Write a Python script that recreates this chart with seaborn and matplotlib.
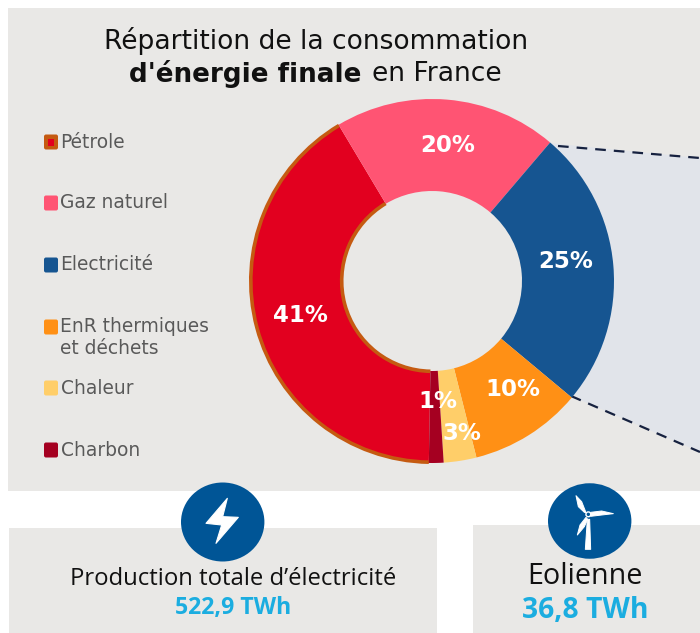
import matplotlib
matplotlib.use("Agg")
import matplotlib.pyplot as plt
import seaborn as sns
from matplotlib.patches import Rectangle, Ellipse, Polygon, FancyBboxPatch, Circle, Arc

# Data
sources = ["Pétrole", "Gaz naturel", "Electricité", "EnR thermiques\net déchets", "Chaleur", "Charbon"]
shares = [41.1, 19.8, 24.8, 10.0, 2.9, 1.3]
colors = ["#E2001F", "#FF5473", "#165591", "#FF9015", "#FFCE69", "#A50021"]
title_top = "Répartition de la consommation"
total_label = "Production totale d’électricité"
total_value = "522,9 TWh"
wind_label = "Eolienne"
wind_value = "36,8 TWh"

sns.set_theme(style="white", rc={"font.family": ["DejaVu Sans"]})
palette = sns.color_palette(colors)

H = 633
Y = lambda y: H - y
BG = "#E9E8E6"
BLUE = "#005596"
CYAN = "#1BADE0"
GREY = "#595959"
EDGE = "#C55A11"

fig = plt.figure(figsize=(7.0, 6.33), dpi=100, facecolor="white")
ax = fig.add_axes([0, 0, 1, 1])

# Panels
for x0, y0, x1, y1 in [(8, 8, 700, 491), (9, 528, 437, 633), (473, 525, 700, 633)]:
    ax.add_patch(Rectangle((x0, Y(y1)), x1 - x0, y1 - y0, fc=BG, ec="none", zorder=1))

# Zoom wedge
ax.add_patch(Polygon([(549, Y(143)), (700, Y(158)), (700, Y(452)), (571, Y(396))],
                     fc="#E1E4EA", ec="none", zorder=1.5))
ax.plot([558, 700], [Y(146), Y(158)], color="#16213F", lw=1.6, ls=(0, (4.8, 3.6)), zorder=2)
ax.plot([571, 700], [Y(396), Y(452)], color="#16213F", lw=1.6, ls=(0, (4.8, 3.6)), zorder=2)

# Donut
cx, cy, R, r_in = 432, 281, 182, 90
wedges, _, autotexts = ax.pie(
    shares, colors=palette, center=(cx, Y(cy)), radius=R, startangle=-91,
    counterclock=False, frame=True, autopct="%.0f%%", pctdistance=0.747,
    wedgeprops=dict(width=R - r_in, linewidth=0),
    textprops=dict(color="white", fontsize=16.5, fontweight="bold"),
)
for w in wedges:
    w.set_zorder(3)
for rad in (R - 0.8, r_in + 0.3):
    ax.add_patch(Arc((cx, Y(cy)), 2 * rad, 2 * rad, theta1=wedges[0].theta1, theta2=wedges[0].theta2,
                     color=EDGE, lw=2.6, zorder=3.2))
for w in wedges[1:]:
    w.set_zorder(3.5)
label_pos = [(300, 316), (448, 146), (566, 261), (513, 390), (462, 434), (438, 401)]
for t, (x, y) in zip(autotexts, label_pos):
    t.set_zorder(5)
    t.set_position((x, Y(y)))

ax.set_xlim(0, 700)
ax.set_ylim(0, H)
ax.set_aspect("equal")
ax.axis("off")

# Title
ax.text(316, Y(41), title_top, ha="center", va="center", fontsize=19.1, color="#111111", zorder=6)
ax.text(129, Y(74), "d'énergie finale", ha="left", va="center", fontsize=18.9,
        fontweight="bold", color="#111111", zorder=6)
ax.text(372, Y(74), "en France", ha="left", va="center", fontsize=19.1, color="#111111", zorder=6)

# Legend
leg_y = [142, 203, 265, 327, 388, 450]
for name, col, y in zip(sources, palette, leg_y):
    fc = EDGE if name == "Pétrole" else col
    ax.add_patch(FancyBboxPatch((45.5, Y(y) - 6), 11, 12, boxstyle="round,pad=1.5,rounding_size=2",
                                fc=fc, ec="none", zorder=4))
    if name == "Pétrole":
        ax.add_patch(Rectangle((48, Y(y) - 3.5), 6, 7, fc=col, ec="none", zorder=5))
    if "\n" in name:
        ax.text(60.5, Y(y) + 10, name, ha="left", va="top", fontsize=13.4, color=GREY,
                linespacing=1.2, zorder=6)
    else:
        ax.text(60.5, Y(y), name, ha="left", va="center", fontsize=13.4, color=GREY, zorder=6)

# Icons
ax.add_patch(Ellipse((222.7, Y(522)), 83.4, 79, fc=BLUE, ec="none", zorder=7))
bolt = [(142, 55), (78, 130), (125, 135), (108, 190), (175, 112), (128, 110)]
ax.add_patch(Polygon([(180 + x / 3, Y(480 + y / 3)) for x, y in bolt], fc="white", ec="white",
                     lw=0.8, joinstyle="round", zorder=8))

ax.add_patch(Ellipse((589.7, Y(521)), 83.4, 75.5, fc=BLUE, ec="none", zorder=7))
shapes = [
    [(93, 47), (110, 65), (123, 98), (118, 97), (100, 80)],
    [(137, 97), (170, 93), (205, 101), (170, 105), (137, 109)],
    [(123, 112), (128, 118), (118, 140), (97, 165), (105, 135)],
    [(127, 118), (134, 118), (137, 208), (121, 208)],
]
for s in shapes:
    ax.add_patch(Polygon([(545 + x / 3, Y(480 + y / 3)) for x, y in s], fc="white", ec="white",
                         lw=0.7, joinstyle="round", zorder=8))
hub = (545 + 130 / 3, Y(480 + 103 / 3))
ax.add_patch(Circle(hub, 2.4, fc=BLUE, ec="white", lw=1, zorder=9))

# Bottom labels
ax.text(233, Y(579), total_label, ha="center", va="center", fontsize=17.2, family="Open Sans", color="#111111", zorder=6)
ax.text(233, Y(608), total_value, ha="center", va="center", fontsize=16.7, family="Open Sans", fontweight="bold", color=CYAN, zorder=6)
ax.text(585, Y(576), wind_label, ha="center", va="center", fontsize=20.7, family="Open Sans", color="#111111", zorder=6)
ax.text(585, Y(610), wind_value, ha="center", va="center", fontsize=20.3, family="Open Sans", fontweight="bold", color=CYAN, zorder=6)

fig.savefig("out.png", dpi=100, facecolor="white")
